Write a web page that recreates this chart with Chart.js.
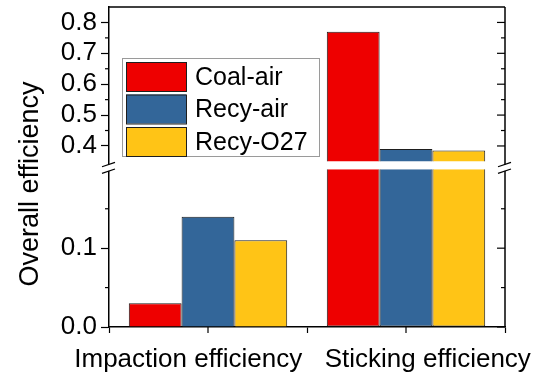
<!DOCTYPE html>
<html>
<head>
<meta charset="utf-8">
<script src="https://cdn.jsdelivr.net/npm/chart.js@4.4.0/dist/chart.umd.min.js"></script>
<style>
  html, body { margin: 0; padding: 0; background: #fff; }
</style>
</head>
<body>
<canvas id="myChart" width="537" height="373"></canvas>
<script>
var categories = ['Impaction efficiency', 'Sticking efficiency'];
var seriesNames = ['Coal-air', 'Recy-air', 'Recy-O27'];
var coalAir = [0.03, 0.77];
var recyAir = [0.14, 0.39];
var recyO27 = [0.11, 0.385];
var lowTicks = [0.0, 0.1];
var highTicks = [0.4, 0.5, 0.6, 0.7, 0.8];
var lowMinor = [0.05, 0.15];
var highMinor = [0.45, 0.55, 0.65, 0.75];

// y axis is cut between these two values
var breakLow = 0.2;
var breakHigh = 0.35;

var colors = ['#EE0000', '#336699', '#FFC416'];
var FONT = 'Liberation Sans, Arial, sans-serif';

var seriesValues = [coalAir, recyAir, recyO27];
var datasets = [];

// lower part of every bar, cut at breakLow
seriesValues.forEach(function (vals, i) {
  datasets.push({
    label: seriesNames[i],
    data: vals.map(function (v) { return Math.min(v, breakLow); }),
    yAxisID: 'yLow',
    stack: 's' + i,
    backgroundColor: colors[i],
    borderColor: '#1e1e1e',
    borderWidth: 1,
    borderSkipped: function (c) { return vals[c.dataIndex] > breakLow ? 'end' : 'start'; }
  });
});
// upper part, only for bars that reach above the cut
seriesValues.forEach(function (vals, i) {
  datasets.push({
    label: seriesNames[i],
    data: vals.map(function (v) { return v > breakHigh ? [breakHigh, v] : null; }),
    yAxisID: 'yHigh',
    stack: 's' + i,
    backgroundColor: colors[i],
    borderColor: '#1e1e1e',
    borderWidth: 1,
    borderSkipped: 'start'
  });
});

function line(ctx, x1, y1, x2, y2) {
  ctx.beginPath();
  ctx.moveTo(x1, y1);
  ctx.lineTo(x2, y2);
  ctx.stroke();
}

// keep tick labels from pushing the plot area around
function fixSize(w, h) {
  return function (s) {
    if (w) s.width = w;
    if (h) s.height = h;
    s.paddingLeft = 0;
    s.paddingRight = 0;
    s.paddingTop = 0;
    s.paddingBottom = 0;
  };
}

// frame, mirrored ticks, break marks, y title and legend box
var decorations = {
  id: 'decorations',
  afterDraw: function (chart) {
    var ctx = chart.ctx;
    var a = chart.chartArea;
    var yHi = chart.scales.yHigh;
    var yLo = chart.scales.yLow;
    var xs = chart.scales.x;
    ctx.save();
    ctx.strokeStyle = '#000';
    ctx.lineWidth = 1.5;
    line(ctx, a.left, a.top, a.right, a.top);
    line(ctx, a.right, a.top, a.right, a.bottom);

    ctx.lineWidth = 1.2;
    function ticks(scale, vals, len) {
      vals.forEach(function (v) {
        var y = scale.getPixelForValue(v);
        line(ctx, a.right - len, y, a.right, y);
        if (len < 8) line(ctx, a.left - len, y, a.left, y);
      });
    }
    ticks(yHi, highTicks, 8);
    ticks(yLo, lowTicks, 8);
    ticks(yHi, highMinor, 4);
    ticks(yLo, lowMinor, 4);

    categories.forEach(function (c, i) {
      var x = xs.getPixelForValue(i);
      line(ctx, x, a.bottom, x, a.bottom + 6);
    });

    // break marks on both side axes
    var yb = yHi.bottom;
    [a.left, a.right].forEach(function (x) {
      ctx.fillStyle = '#fff';
      ctx.fillRect(x - 2, yb - 1, 4, 6.5);
      line(ctx, x - 7, yb + 1.3, x + 6, yb - 3.1);
      line(ctx, x - 7, yb + 7.9, x + 6, yb + 3.6);
    });

    // y axis title
    ctx.fillStyle = '#000';
    ctx.font = '27px ' + FONT;
    ctx.textAlign = 'center';
    ctx.textBaseline = 'middle';
    ctx.save();
    ctx.translate(31, (a.top + a.bottom) / 2 + 17);
    ctx.rotate(-Math.PI / 2);
    ctx.fillText('Overall efficiency', 0, 0);
    ctx.restore();

    // legend
    var lx = a.left + 13, ly = a.top + 51, lw = 197, lh = 98;
    ctx.fillStyle = '#fff';
    ctx.fillRect(lx, ly, lw, lh);
    ctx.strokeStyle = '#9a9a9a';
    ctx.lineWidth = 1;
    ctx.strokeRect(lx + 0.5, ly + 0.5, lw, lh);
    ctx.font = '25px ' + FONT;
    ctx.textAlign = 'left';
    seriesNames.forEach(function (name, i) {
      var sy = ly + 4 + i * 32.5;
      ctx.fillStyle = colors[i];
      ctx.fillRect(lx + 4, sy, 60, 29);
      ctx.strokeStyle = '#1e1e1e';
      ctx.strokeRect(lx + 4.5, sy + 0.5, 60, 29);
      ctx.fillStyle = '#000';
      ctx.fillText(name, lx + 73, sy + 16);
    });
    ctx.restore();
  }
};

var yTickFont = { family: FONT, size: 26 };

var contx = document.getElementById('myChart').getContext('2d');
var myChart = new Chart(contx, {
  type: 'bar',
  data: {
    labels: categories,
    datasets: datasets
  },
  plugins: [decorations],
  options: {
    responsive: false,
    animation: false,
    devicePixelRatio: 1,
    layout: { padding: { left: 61, right: 32, top: 7, bottom: 0 } },
    categoryPercentage: 0.8,
    barPercentage: 1.0,
    plugins: {
      legend: { display: false },
      tooltip: { enabled: false }
    },
    scales: {
      x: {
        type: 'category',
        offset: true,
        grid: { offset: true, drawOnChartArea: false, tickLength: 6, tickColor: '#000', tickWidth: 1.2 },
        border: { color: '#000', width: 1.5 },
        ticks: { display: false },
        afterFit: fixSize(0, 6)
      },
      xNames: {
        type: 'linear',
        position: 'bottom',
        offset: false,
        min: 0.5,
        max: 2.5,
        grid: { display: false, offset: false },
        border: { display: false },
        afterBuildTicks: function (s) { s.ticks = [{ value: 0.9 }, { value: 2.11 }]; },
        ticks: {
          autoSkip: false,
          maxRotation: 0,
          padding: 3,
          color: '#000',
          font: { family: FONT, size: 26 },
          callback: function (v, i) { return categories[i]; }
        },
        afterFit: fixSize(0, 40)
      },
      yLow: {
        type: 'linear',
        position: 'left',
        stack: 'left',
        stackWeight: 1.02,
        stacked: false,
        min: 0,
        max: 0.205,
        afterBuildTicks: function (s) { s.ticks = lowTicks.map(function (v) { return { value: v }; }); },
        ticks: { autoSkip: false, color: '#000', font: yTickFont, padding: 4, callback: function (v) { return v.toFixed(1); } },
        grid: { drawOnChartArea: false, tickLength: 8, tickColor: '#000', tickWidth: 1.2 },
        border: { color: '#000', width: 1.5 },
        afterFit: fixSize(48, 0)
      },
      yHigh: {
        type: 'linear',
        position: 'left',
        stack: 'left',
        stackWeight: 1,
        stacked: false,
        min: 0.337,
        max: 0.85,
        afterBuildTicks: function (s) { s.ticks = highTicks.map(function (v) { return { value: v }; }); },
        ticks: { autoSkip: false, color: '#000', font: yTickFont, padding: 4, callback: function (v) { return v.toFixed(1); } },
        grid: { drawOnChartArea: false, tickLength: 8, tickColor: '#000', tickWidth: 1.2 },
        border: { color: '#000', width: 1.5 },
        afterFit: fixSize(48, 0)
      }
    }
  }
});
</script>
</body>
</html>
